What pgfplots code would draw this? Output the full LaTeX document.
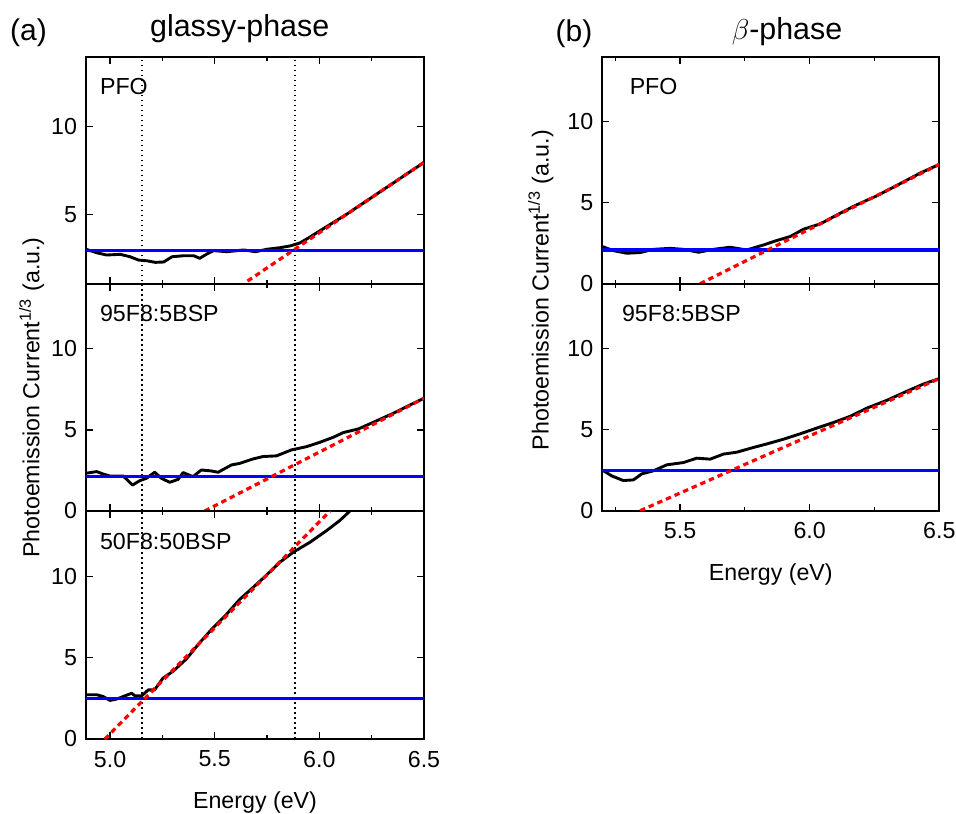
\documentclass[border=0pt]{standalone}
\usepackage{fontspec}
\setmainfont{Liberation Sans}
\usepackage{pgfplots}
\pgfplotsset{compat=1.18}
\definecolor{fitblue}{RGB}{0,0,255}
\definecolor{fitred}{RGB}{255,0,0}

\newcommand{\lblfont}{\fontsize{11.6}{13.9}\selectfont}

\pgfplotsset{
  panel/.style={
    scale only axis,
    ymax=14,
    xtick={5,5.5,6,6.5},
    minor xtick={5.25,5.75,6.25},
    ytick={0,5,10},
    tick align=inside,
    xtick pos=both, ytick pos=both,
    major tick length=3.5pt,
    minor tick length=2pt,
    every tick/.style={black, line width=0.6pt},
    axis line style={line width=0.9pt},
    tick label style={font=\lblfont},
    /pgf/number format/assume math mode=true,
    xticklabel style={/pgf/number format/.cd, fixed, fixed zerofill, precision=1, /tikz/.cd, yshift=-2.4pt},
    yticklabel style={xshift=-1pt},
    clip=true,
  },
  leftpanel/.style={panel, width=169pt, xmin=4.885, xmax=6.5},
  rightpanel/.style={panel, width=168.5pt, xmin=5.2, xmax=6.5},
  dat/.style={black, line width=1.45pt, line join=round},
  base/.style={fitblue, line width=1.55pt},
  fit/.style={fitred, line width=1.6pt, dash pattern=on 2.7pt off 2pt},
  vdot/.style={black, line width=0.9pt, dash pattern=on 0.8pt off 1.7pt},
}

\begin{document}
\begin{tikzpicture}
\path[use as bounding box] (0pt,0pt) rectangle (478pt,-406.5pt);

% ---------- (a) glassy-phase, PFO ----------
\begin{axis}[leftpanel, at={(43pt,-28.5pt)}, anchor=north west, height=113.5pt,
  ymin=1, xticklabels={}]
\addplot[vdot] coordinates {(5.153,0)(5.153,14)};
\addplot[vdot] coordinates {(5.882,0)(5.882,14)};
\addplot[dat] coordinates {
(4.885,2.99)(4.936,2.79)(4.984,2.66)(5.048,2.70)(5.096,2.56)(5.136,2.37)
(5.176,2.33)(5.216,2.24)(5.256,2.26)(5.296,2.56)(5.352,2.62)(5.400,2.62)
(5.428,2.47)(5.463,2.72)(5.495,2.91)(5.559,2.85)(5.639,2.95)(5.695,2.85)
(5.750,2.99)(5.812,3.08)(5.860,3.18)(5.907,3.35)(5.950,3.65)(6.003,4.05)
(6.131,5.00)(6.258,6.02)(6.385,7.04)(6.500,7.96)};
\addplot[base] coordinates {(4.885,2.91)(6.5,2.91)};
\addplot[fit] coordinates {(5.657,1.17)(6.5,7.97)};
\node[anchor=base west, font=\lblfont] at (rel axis cs:0.0207,0.833) {PFO};
\end{axis}

% ---------- (a) glassy-phase, 95F8:5BSP ----------
\begin{axis}[leftpanel, at={(43pt,-142pt)}, anchor=north west, height=113.5pt,
  ymin=0, xticklabels={}]
\addplot[vdot] coordinates {(5.153,0)(5.153,14)};
\addplot[vdot] coordinates {(5.882,0)(5.882,14)};
\addplot[dat] coordinates {
(4.885,2.33)(4.936,2.43)(4.967,2.28)(4.999,2.16)(5.063,2.16)(5.107,1.60)
(5.142,1.87)(5.174,2.02)(5.213,2.39)(5.245,2.02)(5.285,1.77)(5.325,1.95)
(5.349,2.37)(5.396,2.12)(5.436,2.53)(5.484,2.47)(5.516,2.39)(5.580,2.84)
(5.620,2.94)(5.683,3.21)(5.731,3.36)(5.795,3.40)(5.867,3.77)(5.939,3.97)
(6.003,4.24)(6.067,4.55)(6.115,4.84)(6.186,5.06)(6.258,5.47)(6.354,6.03)
(6.433,6.54)(6.500,6.95)};
\addplot[base] coordinates {(4.885,2.12)(6.5,2.12)};
\addplot[fit] coordinates {(5.452,0)(6.5,6.95)};
\node[anchor=base west, font=\lblfont] at (rel axis cs:0.0207,0.833) {95F8:5BSP};
\end{axis}

% ---------- (a) glassy-phase, 50F8:50BSP ----------
\begin{axis}[leftpanel, at={(43pt,-255.5pt)}, anchor=north west, height=114pt,
  ymin=0]
\addplot[vdot] coordinates {(5.153,0)(5.153,14)};
\addplot[vdot] coordinates {(5.882,0)(5.882,14)};
\addplot[dat] coordinates {
(4.885,2.72)(4.936,2.72)(4.967,2.61)(4.999,2.37)(5.031,2.45)(5.063,2.61)
(5.103,2.81)(5.119,2.65)(5.151,2.65)(5.183,3.02)(5.213,3.02)(5.253,3.74)
(5.301,4.16)(5.365,4.92)(5.428,5.91)(5.492,6.83)(5.556,7.65)(5.620,8.58)
(5.683,9.30)(5.747,10.06)(5.811,10.85)(5.875,11.47)(5.955,12.08)(6.035,12.80)
(6.098,13.42)(6.146,14.0)};
\addplot[base] coordinates {(4.885,2.51)(6.5,2.51)};
\addplot[fit] coordinates {(4.975,0)(6.051,14.0)};
\node[anchor=base west, font=\lblfont] at (rel axis cs:0.0207,0.833) {50F8:50BSP};
\end{axis}

% ---------- (b) beta-phase, PFO ----------
\begin{axis}[rightpanel, at={(301.15pt,-28.35pt)}, anchor=north west, height=113.5pt,
  ymin=0, xticklabels={}]
\addplot[dat] coordinates {
(5.200,2.29)(5.243,2.04)(5.294,1.88)(5.346,1.92)(5.397,2.12)(5.461,2.18)
(5.513,2.12)(5.571,1.94)(5.629,2.12)(5.693,2.25)(5.757,2.08)(5.822,2.39)
(5.870,2.65)(5.925,2.91)(5.976,3.36)(6.041,3.69)(6.118,4.35)(6.182,4.87)
(6.259,5.42)(6.349,6.17)(6.427,6.83)(6.500,7.36)};
\addplot[base] coordinates {(5.2,2.08)(6.5,2.08)};
\addplot[fit] coordinates {(5.577,0)(6.5,7.36)};
\node[anchor=base west, font=\lblfont] at (rel axis cs:0.0605,0.833) {PFO};
\end{axis}

% ---------- (b) beta-phase, 95F8:5BSP ----------
\begin{axis}[rightpanel, at={(301.15pt,-141.85pt)}, anchor=north west, height=113.5pt,
  ymin=0]
\addplot[dat] coordinates {
(5.200,2.51)(5.236,2.15)(5.281,1.86)(5.320,1.90)(5.352,2.27)(5.397,2.46)
(5.449,2.83)(5.513,2.97)(5.564,3.24)(5.616,3.18)(5.667,3.49)(5.719,3.61)
(5.783,3.90)(5.835,4.12)(5.899,4.41)(5.963,4.74)(6.028,5.10)(6.092,5.44)
(6.156,5.82)(6.221,6.33)(6.298,6.81)(6.375,7.37)(6.440,7.82)(6.500,8.15)};
\addplot[base] coordinates {(5.2,2.48)(6.5,2.48)};
\addplot[fit] coordinates {(5.346,0)(6.5,8.15)};
\node[anchor=base west, font=\lblfont] at (rel axis cs:0.0377,0.833) {95F8:5BSP};
\end{axis}

% ---------- titles and axis labels ----------
\node[font=\fontsize{15}{18}\selectfont] at (14.25pt,-16.25pt) {(a)};
\node[anchor=base, font=\fontsize{15.2}{18}\selectfont] at (119.85pt,-18.35pt) {glassy-phase};
\node[font=\fontsize{15}{18}\selectfont] at (287pt,-16.8pt) {(b)};
\node[anchor=base, font=\fontsize{15.2}{18}\selectfont] at (393.5pt,-19.8pt) {$\beta$-phase};

\node[rotate=90, anchor=base, font=\lblfont] at (19.75pt,-198.75pt)
  {Photoemission Current\textsuperscript{1/3} (a.u.)};
\node[rotate=90, anchor=base, font=\lblfont] at (274.25pt,-145pt)
  {Photoemission Current\textsuperscript{1/3} (a.u.)};

\node[anchor=base, font=\lblfont] at (127.5pt,-404.15pt) {Energy (eV)};
\node[anchor=base, font=\lblfont] at (385.4pt,-290pt) {Energy (eV)};
\end{tikzpicture}
\end{document}
